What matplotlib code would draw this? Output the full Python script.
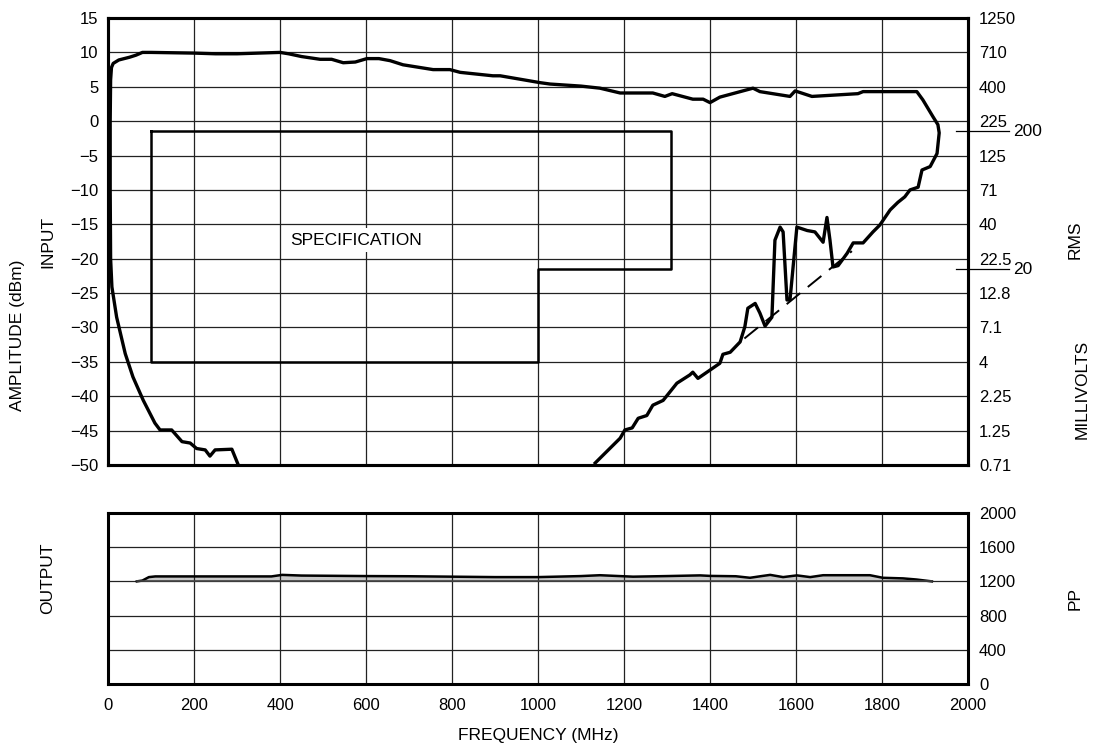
import numpy as np
import matplotlib
matplotlib.use("Agg")
import matplotlib.pyplot as plt

plt.rcParams['font.family'] = ['Liberation Sans', 'DejaVu Sans']
plt.rcParams['font.size'] = 12

# input sensitivity envelope (MHz, dBm)
env_freq = [303, 288, 249, 237, 226, 206, 191, 172, 148, 121, 109, 82, 58, 40, 20, 9, 6, 5, 5, 6, 8, 12,
            25, 50, 65, 80, 100, 200, 250, 300, 400, 420, 450, 493, 520, 547, 575, 602, 630, 656, 686,
            756, 795, 819, 895, 912, 1005, 1028, 1100, 1144, 1191, 1267, 1295, 1312, 1360, 1384, 1400,
            1423, 1500, 1516, 1586, 1598, 1637, 1744, 1756, 1881, 1895, 1919, 1930, 1933, 1928, 1912,
            1893, 1884, 1865, 1853, 1837, 1819, 1795, 1779, 1756, 1733, 1719, 1698, 1686, 1679, 1672,
            1663, 1644, 1626, 1602, 1586, 1579, 1570, 1563, 1551, 1544, 1528, 1516, 1505, 1488, 1481,
            1470, 1447, 1430, 1423, 1372, 1360, 1353, 1323, 1291, 1267, 1253, 1233, 1219, 1202, 1191, 1133]
env_dbm = [-50, -47.7, -47.8, -48.7, -47.8, -47.6, -46.8, -46.6, -44.9, -44.9, -43.9, -40.6, -37.2, -33.8,
           -28.5, -24.1, -20, -10, 0, 6, 7.8, 8.4, 8.9, 9.3, 9.6, 10.0, 10.0, 9.9, 9.8, 9.8, 10.0, 9.8,
           9.4, 9.0, 9.0, 8.5, 8.6, 9.1, 9.1, 8.8, 8.2, 7.5, 7.5, 7.1, 6.6, 6.6, 5.6, 5.4, 5.1, 4.8, 4.1,
           4.1, 3.6, 4.0, 3.2, 3.2, 2.7, 3.5, 4.8, 4.3, 3.6, 4.4, 3.6, 4.0, 4.3, 4.3, 3.1, 0.6, -0.5,
           -1.7, -4.7, -6.6, -7.1, -9.6, -10.0, -11.0, -11.8, -12.9, -15.1, -16.1, -17.7, -17.7, -19.2,
           -21, -21.2, -17.3, -14.0, -17.6, -16.1, -15.9, -15.4, -26, -26, -16.1, -15.4, -17.3, -28.5,
           -29.8, -27.9, -26.5, -27.2, -29.9, -32.1, -33.6, -33.9, -35.2, -37.4, -36.5, -36.9, -38.1,
           -40.6, -41.3, -42.8, -43.2, -44.6, -44.9, -46.1, -49.7]

# extrapolated trend (dashed)
trend_freq = [1480, 1730]
trend_dbm = [-31.6, -18.9]

# specification box outline
spec_freq = [100, 100, 1000, 1000, 1310, 1310, 100]
spec_dbm = [-1.5, -35, -35, -21.5, -21.5, -1.5, -1.5]

# output amplitude band (MHz, mV p-p)
out_freq = [67, 80, 95, 110, 380, 405, 450, 600, 700, 800, 900, 1000, 1100, 1144, 1221, 1300, 1377,
            1400, 1460, 1493, 1520, 1540, 1570, 1602, 1633, 1663, 1772, 1802, 1849, 1880, 1916]
out_top = [1200, 1210, 1250, 1258, 1258, 1276, 1268, 1262, 1260, 1255, 1250, 1250, 1262, 1272, 1255,
           1262, 1270, 1264, 1260, 1242, 1262, 1276, 1250, 1270, 1250, 1272, 1272, 1242, 1235, 1222, 1200]
out_base = 1200

left_ticks = list(range(-50, 20, 5))
rms_labels = ['0.71', '1.25', '2.25', '4', '7.1', '12.8', '22.5', '40', '71', '125', '225', '400',
              '710', '1250']
pp_ticks = [0, 400, 800, 1200, 1600, 2000]
freq_ticks = list(range(0, 2200, 200))

fig = plt.figure(figsize=(10.99, 7.48), dpi=100)
ax = fig.add_axes([0.0983, 0.3783, 0.7825, 0.5976])
ax2 = fig.add_axes([0.0983, 0.0856, 0.7825, 0.2286])

gridkw = dict(color='#222222', lw=0.9)

# top panel
ax.set_xlim(0, 2000)
ax.set_ylim(-50, 15)
ax.set_xticks(freq_ticks)
ax.set_yticks(left_ticks)
ax.set_yticklabels([str(t).replace('-', '\u2212') for t in left_ticks])
ax.grid(True, **gridkw)
ax.tick_params(axis='x', length=0, labelbottom=False)
ax.tick_params(axis='y', length=0, pad=7, labelsize=12)
for s in ax.spines.values():
    s.set_linewidth(2.2)
ax.plot(spec_freq, spec_dbm, color='black', lw=1.8)
ax.plot(env_freq, env_dbm, color='black', lw=2.4, solid_joinstyle='round')
ax.plot(trend_freq, trend_dbm, color='black', lw=1.4, dashes=(9, 5))
ax.text(578, -17.3, 'SPECIFICATION', ha='center', va='center', fontsize=12.5,
        bbox=dict(facecolor='white', edgecolor='none', pad=3))

axr = ax.twinx()
axr.set_ylim(-50, 15)
axr.set_yticks(left_ticks)
axr.set_yticklabels(rms_labels)
axr.tick_params(axis='y', length=0, pad=8, labelsize=12)
for s in axr.spines.values():
    s.set_linewidth(2.2)

# 200 / 20 mV markers
for y, lab in [(-1.5, '200'), (-21.5, '20')]:
    ax.plot([1972, 2095], [y, y], color='black', lw=0.9, clip_on=False)
    ax.text(2105, y, lab, ha='left', va='center', fontsize=12.5, clip_on=False)

# bottom panel
ax2.set_xlim(0, 2000)
ax2.set_ylim(0, 2000)
ax2.set_xticks(freq_ticks)
ax2.set_yticks(pp_ticks)
ax2.grid(True, **gridkw)
ax2.tick_params(axis='x', length=0, pad=10, labelsize=12)
ax2.tick_params(axis='y', length=0, pad=8, labelleft=False, labelright=True, labelsize=12)
for s in ax2.spines.values():
    s.set_linewidth(2.2)
ax2.fill_between(out_freq, out_base, out_top, color='#c8c8c8', lw=0)
ax2.plot(out_freq, out_top, color='black', lw=1.8)
ax2.plot([67, 1916], [out_base, out_base], color='#444444', lw=1.2)

lab = dict(rotation=90, ha='center', va='center', fontsize=12.5)
fig.text(0.0155, 0.552, 'AMPLITUDE (dBm)', **lab)
fig.text(0.0437, 0.676, 'INPUT', **lab)
fig.text(0.0437, 0.227, 'OUTPUT', **lab)
fig.text(0.978, 0.679, 'RMS', **lab)
fig.text(0.985, 0.479, 'MILLIVOLTS', **lab)
fig.text(0.978, 0.200, 'PP', **lab)
fig.text(0.4895, 0.017, 'FREQUENCY (MHz)', ha='center', va='center', fontsize=12.5)

fig.savefig('out.png', dpi=100)
